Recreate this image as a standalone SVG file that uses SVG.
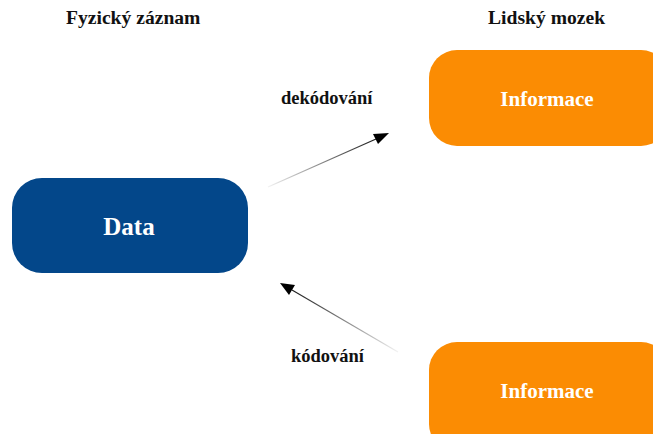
<svg xmlns="http://www.w3.org/2000/svg" width="653" height="434" viewBox="0 0 653 434">
  <style>
    .title { font-family: "Liberation Serif", "Times New Roman", serif; font-weight: bold; font-size: 19.6px; fill: #111; }
    .label { font-family: "Liberation Serif", "Times New Roman", serif; font-weight: bold; font-size: 18.5px; fill: #111; }
    .node-text { font-family: "Liberation Serif", "Times New Roman", serif; font-weight: bold; fill: #ffffff; text-anchor: middle; dominant-baseline: central; }
    .data { fill: #03478a; }
    .info { fill: #fb8c03; }
  </style>
  <defs>
    <linearGradient id="fadeUp" gradientUnits="userSpaceOnUse" x1="268" y1="187" x2="389" y2="133">
      <stop offset="0" stop-color="#000" stop-opacity="0.05"/>
      <stop offset="1" stop-color="#000" stop-opacity="1"/>
    </linearGradient>
    <linearGradient id="fadeDown" gradientUnits="userSpaceOnUse" x1="398" y1="352" x2="280" y2="283">
      <stop offset="0" stop-color="#000" stop-opacity="0.05"/>
      <stop offset="1" stop-color="#000" stop-opacity="1"/>
    </linearGradient>
  </defs>

  <text class="title" x="66" y="24">Fyzický záznam</text>
  <text class="title" x="488" y="24">Lidský mozek</text>

  <g id="connectors">
    <line x1="268" y1="187" x2="376" y2="139" stroke="url(#fadeUp)" stroke-width="1.2"/>
    <path d="M389,133 L373,134 L378,144 z" fill="#000"/>
    <text class="label" x="281" y="104">dekódování</text>

    <line x1="398" y1="352" x2="292" y2="290" stroke="url(#fadeDown)" stroke-width="1.2"/>
    <path d="M280,283 L295,285 L289,295 z" fill="#000"/>
    <text class="label" x="291" y="362">kódování</text>
  </g>

  <g id="node-data">
    <rect class="data" x="12" y="178" width="236" height="95" rx="30" ry="30"/>
    <text class="node-text" x="129" y="226" font-size="25">Data</text>
  </g>

  <g id="node-info-top">
    <rect class="info" x="429" y="50" width="240" height="96" rx="28" ry="28"/>
    <text class="node-text" x="547" y="99" font-size="21">Informace</text>
  </g>

  <g id="node-info-bottom">
    <rect class="info" x="429" y="342" width="240" height="110" rx="28" ry="28"/>
    <text class="node-text" x="547" y="391" font-size="21">Informace</text>
  </g>
</svg>
